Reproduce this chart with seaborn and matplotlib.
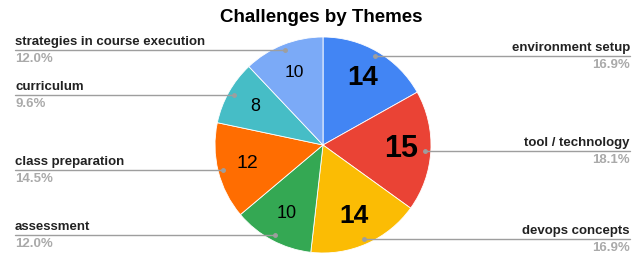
import seaborn as sns
import matplotlib.pyplot as plt
from matplotlib.lines import Line2D
import numpy as np

# data
themes = ['environment setup', 'tool / technology', 'devops concepts', 'assessment',
          'class preparation', 'curriculum', 'strategies in course execution']
counts = [14, 15, 14, 10, 12, 8, 10]
colors = ['#4285F4', '#EA4335', '#FBBC04', '#34A853', '#FF6D01', '#46BDC6', '#7BAAF7']

# style of the numbers inside the slices (google picks size by space)
num_sizes = [20, 22, 19, 13, 14, 13, 12.5]
num_weights = ['bold', 'bold', 'bold', 'normal', 'normal', 'normal', 'normal']

sns.set_theme(style='white')
plt.rcParams['font.family'] = ['Liberation Sans', 'DejaVu Sans']

W, H = 643, 254
fig = plt.figure(figsize=(W / 100, H / 100), dpi=100)
cx, cy, R = 323, 145, 108
ax = fig.add_axes([(cx - R) / W, (H - cy - R) / H, 2 * R / W, 2 * R / H])

total = sum(counts)
wedges, texts, autotexts = ax.pie(counts, colors=colors, startangle=90, counterclock=False,
                                  radius=1, pctdistance=0.72,
                                  autopct=lambda p: f'{round(p * total / 100)}',
                                  wedgeprops=dict(edgecolor='white', linewidth=0.6))
ax.set_xlim(-1, 1)
ax.set_ylim(-1, 1)
ax.set_aspect('equal')
ax.axis('off')

for t, s, w in zip(autotexts, num_sizes, num_weights):
    t.set_fontsize(s)
    t.set_fontweight(w)
    t.set_color('black')

to_fig = ax.transData + fig.transFigure.inverted()
for wdg, name, n in zip(wedges, themes, counts):
    mid = np.deg2rad((wdg.theta1 + wdg.theta2) / 2)
    dx, dy = 0.95 * np.cos(mid), 0.95 * np.sin(mid)
    fx, fy = to_fig.transform((dx, dy))
    pct = f'{100 * n / total:.1f}%'
    if dx >= 0:
        x_end, ha = 630 / W, 'right'
    else:
        x_end, ha = 15 / W, 'left'
    fig.add_artist(Line2D([fx, x_end], [fy, fy], color='#9e9e9e', lw=1, transform=fig.transFigure))
    fig.add_artist(Line2D([fx], [fy], marker='o', ms=2.5, color='#9e9e9e', transform=fig.transFigure))
    fig.text(x_end, fy + 2 / H, name, ha=ha, va='bottom', fontsize=9.5,
             fontweight='bold', color='#222222')
    fig.text(x_end, fy - 3 / H, pct, ha=ha, va='top', fontsize=9.5,
             fontweight='bold', color='#aaaaaa')

fig.text(0.5, 1 - 18 / H, 'Challenges by Themes', ha='center', va='center',
         fontsize=13.5, fontweight='bold', color='black')

plt.savefig('out.png', dpi=100)
